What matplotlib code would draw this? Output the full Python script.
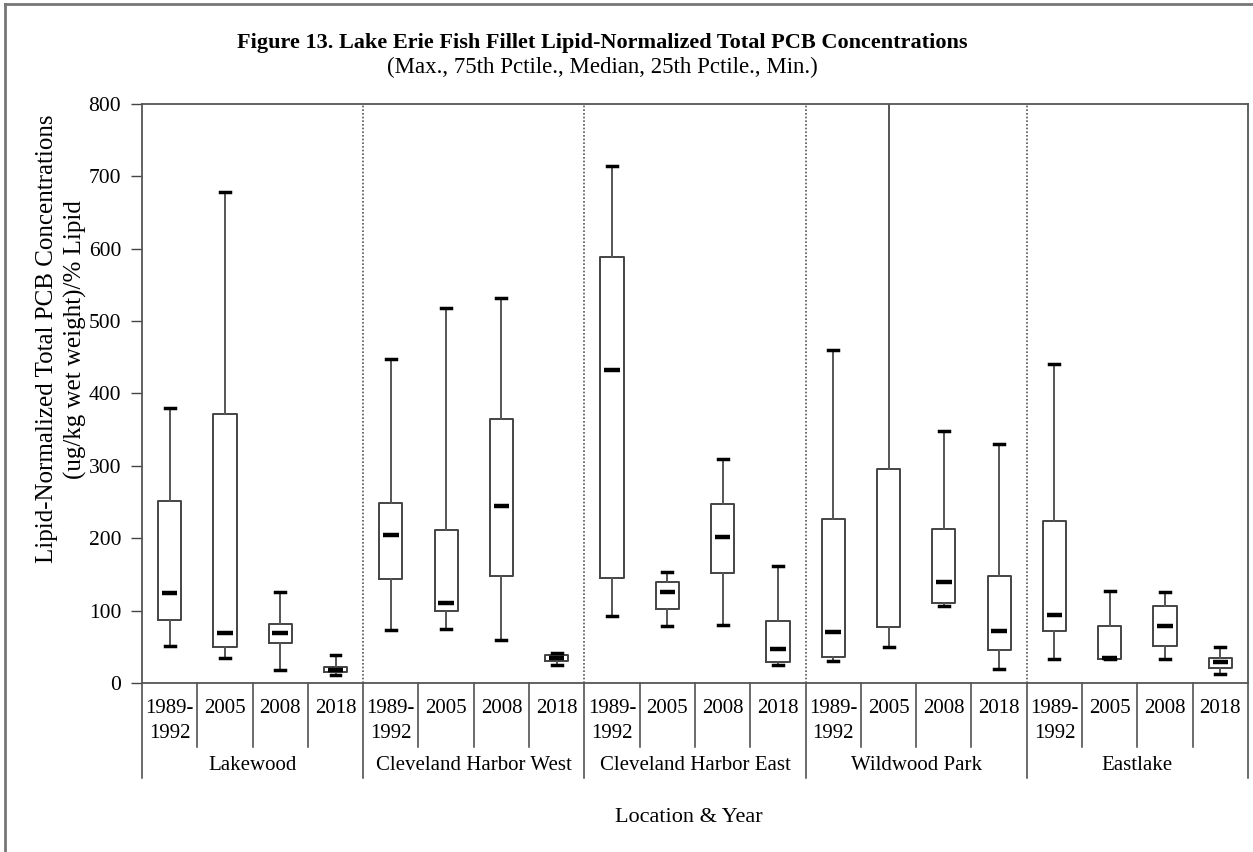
import numpy as np
import matplotlib
matplotlib.use("Agg")
import matplotlib.pyplot as plt
from matplotlib.lines import Line2D

plt.rcParams["font.family"] = ["Liberation Serif", "DejaVu Serif"]

locations = ["Lakewood", "Cleveland Harbor West", "Cleveland Harbor East",
             "Wildwood Park", "Eastlake"]
years = ["1989-\n1992", "2005", "2008", "2018"]

# max, 75th pctile, median, 25th pctile, min for each location/year
maxs = [380, 679, 126, 38,
        447, 518, 532, 41,
        714, 154, 310, 162,
        460, 830, 348, 330,
        441, 127, 125, 49]
q3s = [251, 372, 82, 22,
       248, 212, 365, 38,
       589, 140, 247, 86,
       227, 296, 213, 148,
       224, 79, 106, 35]
medians = [124, 69, 69, 18,
           205, 111, 245, 35,
           433, 126, 201, 47,
           71, np.nan, 140, 72,
           94, 34, 79, 29]
q1s = [87, 50, 55, 15,
       143, 100, 148, 31,
       145, 102, 152, 29,
       36, 77, 110, 46,
       72, 33, 51, 20]
mins = [51, 34, 18, 11,
        73, 74, 59, 25,
        92, 79, 80, 25,
        31, 49, 107, 19,
        33, 33, 33, 12]

fig = plt.figure(figsize=(12.53, 8.52), dpi=100)
ax = fig.add_axes([0.1133, 0.1984, 0.8827, 0.6796])

n = len(maxs)
pos = np.arange(n)
stats = []
for i in range(n):
    stats.append({"whishi": maxs[i], "q3": q3s[i], "med": q1s[i],
                  "q1": q1s[i], "whislo": mins[i]})

edge = "#444444"
ax.bxp(stats, positions=pos, widths=0.42, capwidths=0.18, showfliers=False,
       boxprops=dict(color=edge, linewidth=1.4),
       whiskerprops=dict(color="#555555", linewidth=1.4),
       capprops=dict(color="black", linewidth=2.5),
       medianprops=dict(visible=False))
ax.hlines(medians, pos - 0.14, pos + 0.14, colors="black", linewidth=3.2, zorder=3)

ax.set_xlim(-0.5, n - 0.5)
ax.set_ylim(0, 800)
ax.set_yticks(np.arange(0, 801, 100))
ax.tick_params(axis="y", direction="out", length=8, width=1, color="#444444",
               labelsize=15.5, pad=7)
ax.set_xticks([])
for s in ax.spines.values():
    s.set_color("#555555")
    s.set_linewidth(1.3)

# dotted separators between locations
for g in range(1, len(locations)):
    ax.axvline(g * 4 - 0.5, color="#555555", linestyle=(0, (1, 1.2)), linewidth=1.2)

# category table under the axis
tr = ax.get_xaxis_transform()
for i in range(n + 1):
    xb = i - 0.5
    yb = -0.164 if i % 4 == 0 else -0.1105
    ax.plot([xb, xb], [0, yb], transform=tr, color="#444444", linewidth=1.1,
            clip_on=False)
for i in range(n):
    ax.text(i, -0.028, years[i % 4], transform=tr, ha="center",
            va="top", fontsize=15, linespacing=1.4)
for g, name in enumerate(locations):
    ax.text(g * 4 + 1.5, -0.1425, name, transform=tr, ha="center", va="center",
            fontsize=15)

fig.text(0.481, 0.950, "Figure 13. Lake Erie Fish Fillet Lipid-Normalized Total PCB Concentrations",
         ha="center", va="center", fontsize=16, fontweight="bold")
fig.text(0.481, 0.921, "(Max., 75th Pctile., Median, 25th Pctile., Min.)",
         ha="center", va="center", fontsize=16.5)
fig.text(0.049, 0.602, "Lipid-Normalized Total PCB Concentrations\n(ug/kg wet weight)/% Lipid",
         rotation=90, ha="center", va="center", fontsize=18, multialignment="center",
         linespacing=1.3)
fig.text(0.55, 0.041, "Location & Year", ha="center", va="center", fontsize=16)

# outer frame of the figure
fig.add_artist(Line2D([0.004, 0.004], [0.0, 0.995], transform=fig.transFigure,
                      color="#777777", linewidth=2))
fig.add_artist(Line2D([0.004, 1.0], [0.995, 0.995], transform=fig.transFigure,
                      color="#777777", linewidth=2))

fig.savefig("out.png", dpi=100)
